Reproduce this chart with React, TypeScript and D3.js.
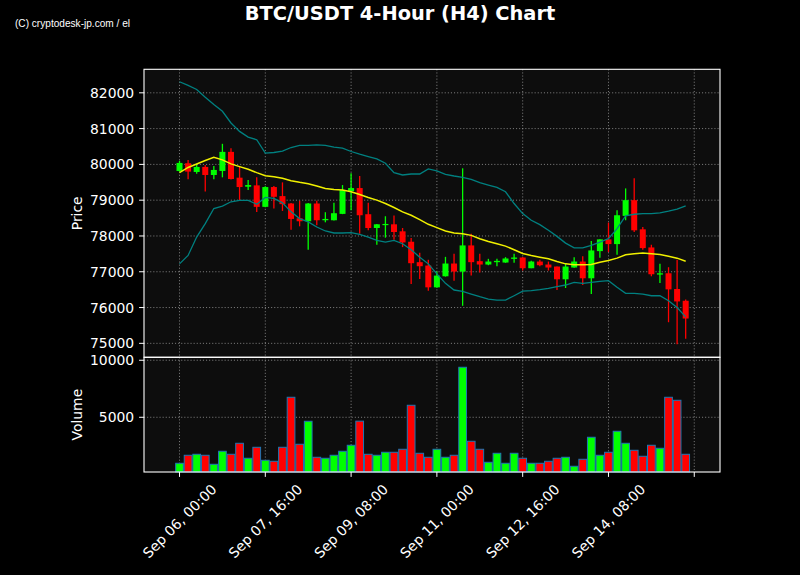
import React from "react";
import * as d3 from "d3";

const opens = [79816,80032,79788,79929,79704,79816,80350,79629,79376,79414,78814,79367,79114,78907,78495,78411,78907,78439,78439,78617,79254,79339,78608,78223,78308,78326,78130,77839,77268,77174,76565,76874,77230,77005,77736,77296,77202,77268,77258,77361,77399,77099,77286,77202,77146,76790,77118,77286,76818,77577,77905,77773,78561,79001,78186,77680,76921,76958,76518,76190];
const highs = [80098,80126,80004,79985,79957,80575,80454,79938,79563,79638,79390,79395,79498,78920,78982,78920,78982,78664,78926,79423,79751,79676,78926,78335,78551,78570,78223,77942,77530,77333,77005,77417,77502,79891,78064,77502,77361,77361,77408,77502,77410,77310,77333,77286,77150,77239,77408,77436,77858,77910,78373,78720,79329,79610,78251,77755,77221,77127,77333,76227];
const lows = [79798,79582,79742,79245,79582,79638,79580,79001,79283,78673,78800,78767,78701,78176,78270,77614,78298,78382,78430,78610,78720,78064,78158,77755,77952,77895,77689,76659,76799,76471,76555,76865,76752,76049,76893,76977,77183,77155,77250,77249,77033,77095,77155,77033,76490,76546,77110,76631,76377,77389,77549,77474,78439,78111,77614,76874,76687,75590,74972,75131];
const closes = [80041,79798,79929,79704,79845,80350,79592,79367,79423,78814,79367,79095,78889,78476,78411,78907,78439,78476,78636,79282,79339,78579,78223,78326,78336,78111,77820,77239,77155,76565,76893,77230,77005,77736,77268,77202,77286,77305,77371,77398,77099,77286,77183,77118,76790,77146,77286,76818,77596,77905,77773,78579,79001,78158,77661,76930,76958,76508,76171,75693];
const volumes = [965,1667,1754,1667,877,2018,1754,2719,1404,2368,1228,1140,2368,6754,2632,4649,1491,1404,1667,2018,2544,4660,1754,1667,1930,1930,2193,6053,1842,1491,2193,1491,1667,9386,2895,2193,1053,1842,965,1842,1404,965,965,1140,1404,1491,702,1316,3246,1667,1930,3772,2719,2105,1579,2544,2281,6754,6491,1754];
const sma = [79770,79915,80010,80110,80201,80126,80014,79938,79863,79770,79685,79657,79610,79545,79498,79460,79395,79329,79301,79282,79235,79161,79076,79001,78907,78795,78673,78579,78458,78326,78233,78139,78083,78064,78017,77923,77848,77783,77717,77614,77511,77455,77408,77361,77286,77221,77193,77193,77202,77268,77314,77380,77474,77502,77521,77502,77483,77436,77380,77296];
const upperBand = [82309,82206,82094,81878,81672,81484,81157,80922,80763,80688,80313,80332,80369,80472,80529,80529,80547,80529,80482,80454,80360,80285,80219,80154,80032,79769,79704,79732,79732,79873,79816,79723,79676,79638,79582,79488,79423,79357,79235,78907,78626,78439,78317,78158,77989,77801,77670,77670,77736,77830,77923,78205,78561,78607,78626,78626,78645,78692,78748,78842];
const lowerBand = [77221,77455,77970,78345,78767,78833,78955,78992,78992,78889,79076,79048,78926,78673,78486,78392,78251,78139,78083,78083,78092,78045,77970,77877,77830,77877,77783,77614,77408,77221,76940,76677,76490,76452,76377,76302,76237,76209,76209,76330,76457,76471,76499,76537,76583,76630,76705,76677,76705,76733,76752,76565,76396,76396,76377,76330,76330,76190,76003,75740];

const xTickIdx = [0, 10, 20, 30, 40, 50, 60];
const xTickLabels = ["Sep 06, 00:00", "Sep 07, 16:00", "Sep 09, 08:00", "Sep 11, 00:00", "Sep 12, 16:00", "Sep 14, 08:00", ""];
const priceTicks = [75000, 76000, 77000, 78000, 79000, 80000, 81000, 82000];
const volumeTicks = [5000, 10000];

const W = 800, H = 575;
const L = 144, R = 720, PT = 69.3, PB = 357.3, VB = 472;
const GREEN = "#00ff00", RED = "#ff0000";
const FONT = "DejaVu Sans, sans-serif";

export default function App() {
  const x = d3.scaleLinear().domain([-4.14, 63.0]).range([L, R]);
  const yP = d3.scaleLinear().domain([74610, 82657]).range([PB, PT]);
  const yV = d3.scaleLinear().domain([200, 10260]).range([VB, PB]);
  const step = x(1) - x(0);
  const bodyW = step * 0.7;
  const barW = step * 0.9;
  const idx = d3.range(opens.length);
  const line = (arr: number[]) =>
    d3.line<number>().x((_, i) => x(i)).y((d) => yP(d))(arr) as string;

  const grid = { stroke: "#b0b0b0", strokeOpacity: 0.75, strokeWidth: 0.9, strokeDasharray: "1.1,2" };

  return (
    <svg width={W} height={H} style={{ display: "block", position: "absolute", left: 0, top: 0, background: "#000" }}>
      <rect x={0} y={0} width={W} height={H} fill="#000" />
      <text x={15} y={26.5} fill="#fff" fontFamily="Liberation Sans Narrow, Liberation Sans, sans-serif" fontSize={10.5} textLength={115} lengthAdjust="spacingAndGlyphs">(C) cryptodesk-jp.com / el</text>
      <text x={400} y={19.5} fill="#fff" fontFamily={FONT} fontWeight="bold" fontSize={19.4} textAnchor="middle">BTC/USDT 4-Hour (H4) Chart</text>

      {/* panels */}
      <rect x={L} y={PT} width={R - L} height={PB - PT} fill="#0d0d0d" />
      <rect x={L} y={PB} width={R - L} height={VB - PB} fill="#0d0d0d" />

      {/* grid */}
      {xTickIdx.map((t) => (
        <g key={"gx" + t}>
          <line x1={x(t)} x2={x(t)} y1={PT} y2={PB} {...grid} />
          <line x1={x(t)} x2={x(t)} y1={PB} y2={VB} {...grid} />
        </g>
      ))}
      {priceTicks.map((p) => (
        <line key={"gp" + p} x1={L} x2={R} y1={yP(p)} y2={yP(p)} {...grid} />
      ))}
      {volumeTicks.map((v) => (
        <line key={"gv" + v} x1={L} x2={R} y1={yV(v)} y2={yV(v)} {...grid} />
      ))}

      {/* candles */}
      {idx.map((i) => {
        const up = closes[i] >= opens[i];
        const c = up ? GREEN : RED;
        const top = yP(Math.max(opens[i], closes[i]));
        const bot = yP(Math.min(opens[i], closes[i]));
        return (
          <g key={"c" + i}>
            <line x1={x(i)} x2={x(i)} y1={yP(highs[i])} y2={yP(lows[i])} stroke={c} strokeWidth={1.3} />
            <rect x={x(i) - bodyW / 2} y={top} width={bodyW} height={Math.max(1.2, bot - top)} fill={c} />
          </g>
        );
      })}

      {/* bands and SMA */}
      <path d={line(upperBand)} fill="none" stroke="#008080" strokeWidth={1.3} />
      <path d={line(lowerBand)} fill="none" stroke="#008080" strokeWidth={1.3} />
      <path d={line(sma)} fill="none" stroke="#f0f000" strokeWidth={1.5} />

      {/* volume */}
      {idx.map((i) => {
        const up = closes[i] >= opens[i];
        return (
          <rect key={"v" + i} x={x(i) - barW / 2} y={yV(volumes[i])} width={barW} height={VB - yV(volumes[i])}
            fill={up ? GREEN : RED} stroke="#1f77b4" strokeWidth={1} />
        );
      })}

      {/* spines */}
      <rect x={L} y={PT} width={R - L} height={PB - PT} fill="none" stroke="#fff" strokeWidth={1.1} />
      <rect x={L} y={PB} width={R - L} height={VB - PB} fill="none" stroke="#fff" strokeWidth={1.1} />

      {/* price y axis */}
      {priceTicks.map((p) => (
        <g key={"tp" + p}>
          <line x1={L - 4.9} x2={L} y1={yP(p)} y2={yP(p)} stroke="#fff" strokeWidth={1} />
          <text x={L - 9.8} y={yP(p)} dy="0.36em" fill="#fff" fontFamily={FONT} fontSize={13.9} textAnchor="end">{p}</text>
        </g>
      ))}
      {volumeTicks.map((v) => (
        <g key={"tv" + v}>
          <line x1={L - 4.9} x2={L} y1={yV(v)} y2={yV(v)} stroke="#fff" strokeWidth={1} />
          <text x={L - 9.8} y={yV(v)} dy="0.36em" fill="#fff" fontFamily={FONT} fontSize={13.9} textAnchor="end">{v}</text>
        </g>
      ))}
      <text transform={`translate(77,${(PT + PB) / 2}) rotate(-90)`} dy="0.36em" fill="#fff" fontFamily={FONT} fontSize={13.9} textAnchor="middle">Price</text>
      <text transform={`translate(77,${(PB + VB) / 2}) rotate(-90)`} dy="0.36em" fill="#fff" fontFamily={FONT} fontSize={13.9} textAnchor="middle">Volume</text>

      {/* x axis */}
      {xTickIdx.map((t, k) => (
        <g key={"tx" + t}>
          <line x1={x(t)} x2={x(t)} y1={VB} y2={VB + 4.9} stroke="#fff" strokeWidth={1} />
          {xTickLabels[k] && (
            <text transform={`translate(${x(t)},521) rotate(-45)`} dy="0.36em" fill="#fff" fontFamily={FONT} fontSize={13.9} textAnchor="middle">{xTickLabels[k]}</text>
          )}
        </g>
      ))}
    </svg>
  );
}
